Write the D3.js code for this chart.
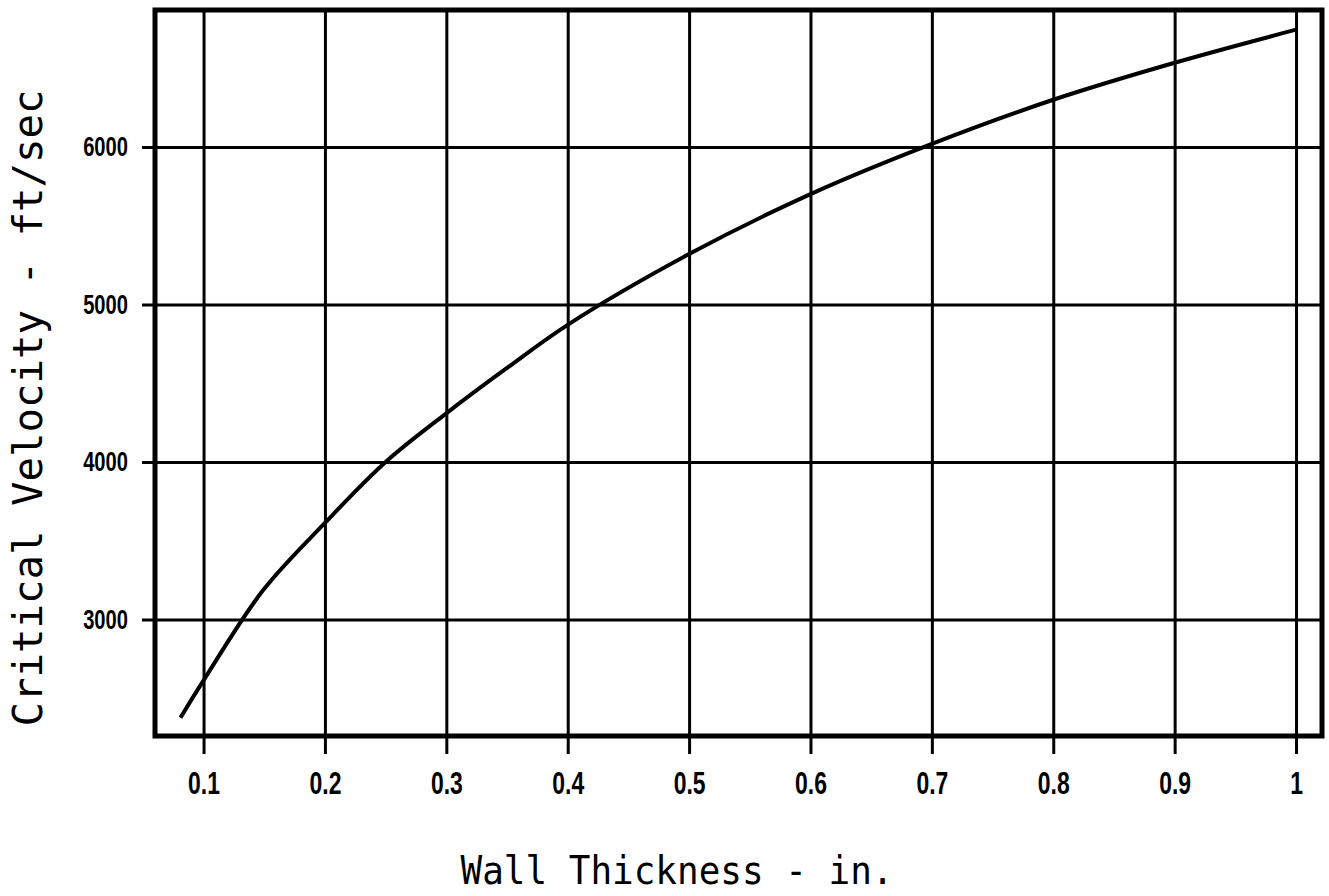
<!DOCTYPE html>
<html>
<head>
<meta charset="utf-8">
<script src="https://cdn.jsdelivr.net/npm/d3@7"></script>
<style>
  html, body { margin: 0; padding: 0; background: #fff; }
  svg { display: block; }
</style>
</head>
<body>
<svg class="chart"></svg>
<script>
// values
const thickness = [0.081, 0.1, 0.149, 0.2, 0.25, 0.3, 0.35, 0.4, 0.5, 0.6, 0.7, 0.8, 0.9, 1.0];
const velocity  = [2376, 2613, 3185, 3613, 4000, 4309, 4597, 4871, 5320, 5701, 6020, 6300, 6535, 6745];
const xTicks = [0.1, 0.2, 0.3, 0.4, 0.5, 0.6, 0.7, 0.8, 0.9, 1];
const yTicks = [3000, 4000, 5000, 6000];
const xTitle = "Wall Thickness - in.";
const yTitle = "Critical Velocity - ft/sec";

const width = 1329, height = 896;
const frame = {left: 155, right: 1322, top: 10, bottom: 736};

const svg = d3.select(".chart").attr("width", width).attr("height", height);

const x = d3.scaleLinear().domain([0.06, 1.0214]).range([frame.left, frame.right]);
const y = d3.scaleLinear().domain([2260, 6870]).range([frame.bottom, frame.top]);

// squeeze bold digits to look like the narrow plotter font
function narrow(sel, k) {
    sel.each(function() {
        const w = this.getComputedTextLength();
        d3.select(this).attr("textLength", w * k).attr("lengthAdjust", "spacingAndGlyphs");
    });
}

// x grid + ticks hanging below the frame
const xAxis = svg.append("g")
    .attr("transform", `translate(0,${frame.bottom + 18})`)
    .call(d3.axisBottom(x).tickValues(xTicks).tickFormat(d3.format("")).tickSize(-(frame.bottom + 18 - frame.top)).tickPadding(18));
xAxis.select(".domain").remove();
xAxis.selectAll("line").attr("stroke", "#000").attr("stroke-width", 3);
xAxis.selectAll("text")
    .attr("fill", "#000")
    .style("font", "bold 31px 'Liberation Sans', Arial, sans-serif")
    .call(narrow, 0.74);

// y grid + ticks sticking out left
const yAxis = svg.append("g")
    .attr("transform", `translate(${frame.left - 13},0)`)
    .call(d3.axisLeft(y).tickValues(yTicks).tickFormat(d3.format("")).tickSize(-(frame.right - frame.left + 13)).tickPadding(14));
yAxis.select(".domain").remove();
yAxis.selectAll("line").attr("stroke", "#000").attr("stroke-width", 3);
yAxis.selectAll("text")
    .attr("fill", "#000")
    .style("font", "bold 28px 'Liberation Sans', Arial, sans-serif")
    .call(narrow, 0.72);

// curve
const line = d3.line()
    .x(d => x(d[0]))
    .y(d => y(d[1]))
    .curve(d3.curveCatmullRom);

svg.append("path")
    .datum(d3.zip(thickness, velocity))
    .attr("fill", "none")
    .attr("stroke", "#000")
    .attr("stroke-width", 4)
    .attr("d", line);

// heavy frame
svg.append("rect")
    .attr("x", frame.left)
    .attr("y", frame.top)
    .attr("width", frame.right - frame.left)
    .attr("height", frame.bottom - frame.top)
    .attr("fill", "none")
    .attr("stroke", "#000")
    .attr("stroke-width", 5);

// axis titles
svg.append("text")
    .attr("x", 677)
    .attr("y", 884)
    .attr("text-anchor", "middle")
    .attr("textLength", 433)
    .attr("lengthAdjust", "spacingAndGlyphs")
    .style("font", "39px 'DejaVu Sans Mono', monospace")
    .text(xTitle);

svg.append("text")
    .attr("transform", "translate(42,408) rotate(-90)")
    .attr("text-anchor", "middle")
    .attr("textLength", 637)
    .attr("lengthAdjust", "spacingAndGlyphs")
    .style("font", "40px 'DejaVu Sans Mono', monospace")
    .text(yTitle);
</script>
</body>
</html>
